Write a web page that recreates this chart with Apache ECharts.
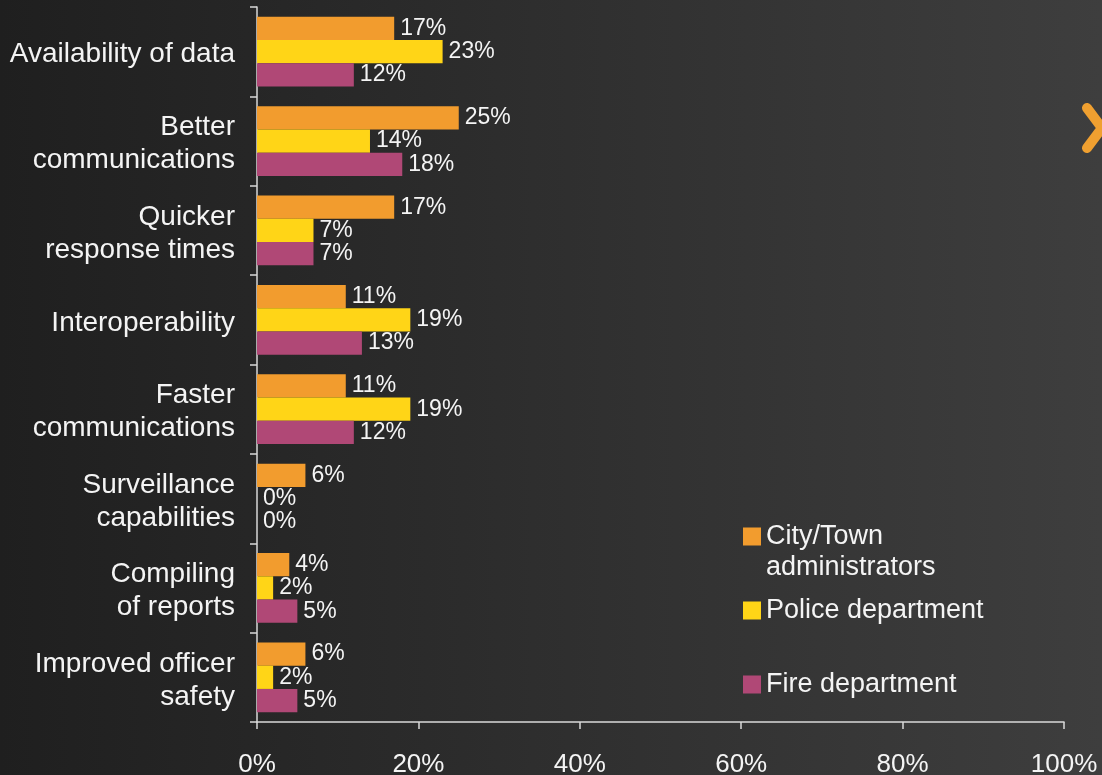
<!DOCTYPE html>
<html>
<head>
<meta charset="utf-8">
<script src="https://cdn.jsdelivr.net/npm/echarts@6/dist/echarts.min.js"></script>
<style>
  html, body { margin: 0; padding: 0; }
  #chart { width: 1102px; height: 775px; }
</style>
</head>
<body>
<div id="chart"></div>
<script>
var categories = [
  'Availability of data',
  'Better\ncommunications',
  'Quicker\nresponse times',
  'Interoperability',
  'Faster\ncommunications',
  'Surveillance\ncapabilities',
  'Compiling\nof reports',
  'Improved officer\nsafety'
]
var cityTown = [17, 25, 17, 11, 11, 6, 4, 6]
var police = [23, 14, 7, 19, 19, 0, 2, 2]
var fire = [12, 18, 7, 13, 12, 0, 5, 5]
var xTicks = [0, 20, 40, 60, 80, 100]

var colors = ['#f29c2e', '#ffd517', '#b04876']
var font = "'Liberation Sans', Arial, sans-serif"

var myChart = echarts.init(document.getElementById('chart'))

function makeSeries(name, data, color) {
  return {
    name: name,
    type: 'bar',
    data: data,
    itemStyle: { color: color },
    barGap: '0%',
    barCategoryGap: '22%',
    label: {
      show: true,
      position: 'right',
      distance: 6,
      color: '#f4f4f4',
      fontFamily: font,
      fontSize: 23,
      formatter: '{c}%'
    }
  }
}

function makeLegend(name, top, padFirst) {
  return {
    data: [name],
    left: 743,
    top: top,
    orient: 'vertical',
    icon: 'rect',
    itemWidth: 18,
    itemHeight: 18,
    itemGap: 0,
    padding: 0,
    selectedMode: false,
    // keep the swatch level with the first line of a wrapped name
    formatter: function (n) { return padFirst ? '\u00a0\n' + n : n },
    textStyle: {
      color: '#f4f4f4',
      fontFamily: font,
      fontSize: 27,
      lineHeight: 31
    }
  }
}

var option = {
  backgroundColor: new echarts.graphic.LinearGradient(0, 0, 1, 0, [
    { offset: 0, color: '#1f1f1f' },
    { offset: 1, color: '#3e3e3e' }
  ]),
  animation: false,
  grid: { left: 257, right: 38, top: 7, bottom: 53, containLabel: false, outerBoundsMode: 'none' },
  legend: [
    makeLegend('City/Town\nadministrators', 490, true),
    makeLegend('Police department', 595, false),
    makeLegend('Fire department', 669, false)
  ],
  xAxis: {
    type: 'value',
    min: xTicks[0],
    max: xTicks[xTicks.length - 1],
    interval: 20,
    axisLine: { show: true, lineStyle: { color: '#d9d9d9', width: 1.5 } },
    axisTick: { show: true, length: 7, lineStyle: { color: '#d9d9d9', width: 1.5 } },
    splitLine: { show: false },
    axisLabel: {
      color: '#f4f4f4',
      fontFamily: font,
      fontSize: 26,
      margin: 30,
      formatter: '{value}%'
    }
  },
  yAxis: {
    type: 'category',
    inverse: true,
    data: categories,
    axisLine: { show: true, lineStyle: { color: '#d9d9d9', width: 1.5 } },
    axisTick: { show: true, length: 7, lineStyle: { color: '#d9d9d9', width: 1.5 } },
    axisLabel: {
      color: '#f4f4f4',
      fontFamily: font,
      fontSize: 28,
      margin: 22,
      align: 'right',
      // nudge the category text a little below the band centre
      formatter: function (v) {
        return v.split('\n').map(function (s) { return '{a|' + s + '}' }).join('\n')
      },
      rich: {
        a: {
          color: '#f4f4f4',
          fontFamily: font,
          fontSize: 28,
          lineHeight: 33,
          padding: [6, 0, 0, 0]
        }
      }
    }
  },
  series: [
    makeSeries('City/Town\nadministrators', cityTown, colors[0]),
    makeSeries('Police department', police, colors[1]),
    makeSeries('Fire department', fire, colors[2])
  ],
  graphic: [{
    type: 'polyline',
    silent: true,
    shape: { points: [[1087, 108], [1102, 128], [1087, 148]] },
    style: { stroke: '#f0a030', lineWidth: 10, lineCap: 'round', lineJoin: 'round', fill: null }
  }]
}

myChart.setOption(option, true)
</script>
</body>
</html>
